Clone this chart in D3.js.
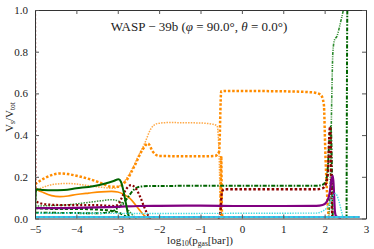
<!DOCTYPE html>
<html>
<head>
<meta charset="utf-8">
<script src="https://cdn.jsdelivr.net/npm/d3@7"></script>
<style>
  body { margin: 0; background: #fff; }
  svg text { font-family: "Liberation Serif", "DejaVu Serif", serif !important; fill: #222; }
</style>
</head>
<body>
<svg id="chart"></svg>
<script>
// values, [log10 p, V_s/V_tot]
const orangeSolid = [[-5, 0.30], [-4.99, 0.15], [-4.95, 0.14], [-4.8, 0.125], [-4.6, 0.11], [-4.4, 0.105], [-4.2, 0.108], [-4.0, 0.115], [-3.7, 0.122], [-3.4, 0.128], [-3.15, 0.13], [-3.0, 0.127], [-2.85, 0.115], [-2.7, 0.095], [-2.55, 0.06], [-2.45, 0.035], [-2.35, 0.012], [-2.25, 0]];
const orangeDashed = [[-5, 0.165], [-4.8, 0.19], [-4.6, 0.208], [-4.4, 0.216], [-4.2, 0.213], [-4.0, 0.205], [-3.7, 0.19], [-3.4, 0.17], [-3.15, 0.152], [-3.0, 0.152], [-2.8, 0.18], [-2.6, 0.25], [-2.4, 0.33], [-2.27, 0.36], [-2.15, 0.32], [-2.0, 0.3], [-1.0, 0.298], [-0.65, 0.3], [-0.55, 0.32], [-0.5, 0.61], [-0.4, 0.612], [1.0, 0.61], [1.7, 0.605], [1.9, 0.595], [1.98, 0.55], [2.02, 0.3], [2.07, 0.08], [2.1, 0]];
const orangeDashedDrop = [[-0.56, 0], [-0.52, 0.02], [-0.5, 0.3], [-0.48, 0.02], [-0.44, 0]];
const orangeDotted = [[-5, 0.13], [-4.8, 0.15], [-4.5, 0.165], [-4.2, 0.168], [-3.8, 0.16], [-3.4, 0.15], [-3.1, 0.145], [-2.9, 0.165], [-2.7, 0.22], [-2.5, 0.3], [-2.35, 0.36], [-2.2, 0.43], [-2.05, 0.455], [-1.8, 0.46], [-1.0, 0.458], [-0.7, 0.452], [-0.6, 0.445], [-0.55, 0.3], [-0.52, 0.05], [-0.5, 0]];
const greenSolid = [[-5, 0], [-4.98, 0.13], [-4.95, 0.14], [-4.8, 0.137], [-4.6, 0.135], [-4.3, 0.137], [-4.0, 0.145], [-3.6, 0.155], [-3.3, 0.168], [-3.1, 0.18], [-2.98, 0.188], [-2.92, 0.175], [-2.86, 0.13], [-2.8, 0.07], [-2.75, 0.02], [-2.7, 0]];
const greenDashDot = [[-5, 0.028], [-4.5, 0.027], [-4.0, 0.026], [-3.5, 0.025], [-3.2, 0.03], [-3.0, 0.05], [-2.8, 0.09], [-2.6, 0.14], [-2.45, 0.153], [-2.2, 0.156], [0, 0.157], [1.8, 0.157], [1.95, 0.162], [2.03, 0.18], [2.08, 0.25], [2.12, 0.4], [2.15, 0.44], [2.17, 0.3], [2.19, 0.05], [2.2, 0]];
const greenDashDotEdge = [[2.53, 0], [2.55, 1.0], [2.6, 1.0]];
const greenDashDotDot = [[2.1, 0], [2.14, 0.2], [2.17, 0.55], [2.2, 0.8], [2.24, 0.857], [2.3, 0.875], [2.36, 0.92], [2.42, 0.97], [2.46, 1.0], [2.6, 1.0]];
const greenDotted = [[-5, 0.06], [-4.6, 0.062], [-4.2, 0.066], [-3.8, 0.075], [-3.4, 0.085], [-3.15, 0.09], [-3.0, 0.085], [-2.85, 0.065], [-2.7, 0.03], [-2.6, 0.008], [-2.55, 0]];
const greenDashed = [[-5, 0.05], [-4.6, 0.046], [-4.2, 0.045], [-3.8, 0.045], [-3.5, 0.043], [-3.2, 0.038], [-3.0, 0.03], [-2.85, 0.015], [-2.75, 0]];
const redDotted = [[-5, 1.0], [-4.99, 0.09], [-4.95, 0.08], [-4.8, 0.07], [-4.5, 0.065], [-4.0, 0.064], [-3.5, 0.064], [-3.1, 0.06], [-3.0, 0.065], [-2.9, 0.1], [-2.8, 0.14], [-2.68, 0.16], [-2.55, 0.14], [-2.45, 0.1], [-2.35, 0.05], [-2.25, 0.01], [-2.2, 0]];
const redDashed = [[-0.58, 0], [-0.52, 0.03], [-0.48, 0.13], [-0.42, 0.14], [1.0, 0.14], [1.8, 0.14], [1.95, 0.145], [2.03, 0.165], [2.08, 0.22], [2.11, 0.38], [2.13, 0.44], [2.15, 0.35], [2.17, 0.1], [2.19, 0]];
const purpleSolid = [[-5, 0.05], [-4.5, 0.05], [-4.0, 0.051], [-3.5, 0.053], [-3.0, 0.056], [-2.5, 0.06], [-2, 0.061], [-1, 0.062], [0, 0.06], [1, 0.06], [1.8, 0.061], [1.95, 0.065], [2.05, 0.08], [2.12, 0.12], [2.17, 0.19], [2.2, 0.205], [2.22, 0.15], [2.25, 0.03], [2.28, 0.01], [2.35, 0.005], [2.4, 0]];
const cyanDotted = [[-5, 0.025], [-4, 0.025], [-2, 0.024], [0, 0.025], [1.8, 0.026], [1.95, 0.035], [2.05, 0.05], [2.12, 0.07], [2.18, 0.1], [2.25, 0.12], [2.3, 0.11], [2.35, 0.08], [2.4, 0.04], [2.45, 0]];
const blueBase = [[-5, 0.007], [0, 0.007], [2.85, 0.007]];
const cyanBase = [[-5, 0.007], [0, 0.007], [2.85, 0.007]];

const xTicks = [-5, -4, -3, -2, -1, 0, 1, 2, 3];
const yTicks = [0, 0.2, 0.4, 0.6, 0.8, 1.0];

const series = [
  {data: orangeDotted, color: '#ffa947', width: 1.5, dash: '1.5,1.2'},
  {data: orangeDashed, color: '#ff8c00', width: 2.5, dash: '2.5,1.8'},
  {data: orangeDashedDrop, color: '#ff8c00', width: 2.5, dash: '2.5,1.8'},
  {data: orangeSolid, color: '#ff8c00', width: 1.7, dash: null},
  {data: greenDotted, color: '#3a8f3a', width: 1.5, dash: '1.5,1.2'},
  {data: greenDashed, color: '#006400', width: 2, dash: '3,2'},
  {data: greenDashDot, color: '#006400', width: 2, dash: '4,1.5,1.5,1.5'},
  {data: greenDashDotDot, color: '#2e8b2e', width: 1.6, dash: '3,1.2,1,1.2,1,1.2'},
  {data: greenDashDotEdge, color: '#006400', width: 2, dash: '4,1.5,1.5,1.5'},
  {data: redDotted, color: '#8b0000', width: 2.2, dash: '2,2'},
  {data: redDashed, color: '#8b0000', width: 2.4, dash: '2.6,2'},
  {data: purpleSolid, color: '#800080', width: 2.2, dash: null},
  {data: greenSolid, color: '#006400', width: 2, dash: null},
  {data: cyanDotted, color: '#40dde0', width: 1.4, dash: '1.4,1.2'},
  {data: blueBase, color: '#3fa9e0', width: 2, dash: null},
  {data: cyanBase, color: '#20f0f0', width: 1, dash: '3,2'}
];

const width = 374, height = 249;
const margin = {left: 35, right: 8, top: 10, bottom: 30.5};

const x = d3.scaleLinear().domain([-5, 3]).range([margin.left, width - margin.right]);
const y = d3.scaleLinear().domain([0, 1]).range([height - margin.bottom, margin.top]);

const line = d3.line()
  .x(d => x(d[0]))
  .y(d => y(d[1]))
  .curve(d3.curveMonotoneX);

const svg = d3.select('#chart').attr('width', width).attr('height', height);

svg.append('clipPath').attr('id', 'plot')
  .append('rect')
  .attr('x', x(-5)).attr('y', y(1))
  .attr('width', x(3) - x(-5)).attr('height', y(0) - y(1));

svg.append('g').attr('clip-path', 'url(#plot)')
  .selectAll('path')
  .data(series)
  .join('path')
  .attr('d', s => line(s.data))
  .attr('fill', 'none')
  .attr('stroke', s => s.color)
  .attr('stroke-width', s => s.width)
  .attr('stroke-dasharray', s => s.dash);

// axes: inward ticks on all four sides
const fmtX = d => d < 0 ? '\u2212' + Math.abs(d) : String(d);
const axBottom = svg.append('g').attr('transform', `translate(0,${y(0)})`)
  .call(d3.axisBottom(x).tickValues(xTicks).tickSizeInner(-4).tickSizeOuter(0).tickPadding(7).tickFormat(fmtX));
const axTop = svg.append('g').attr('transform', `translate(0,${y(1)})`)
  .call(d3.axisTop(x).tickValues(xTicks).tickSizeInner(-4).tickSizeOuter(0).tickFormat(''));
const axLeft = svg.append('g').attr('transform', `translate(${x(-5)},0)`)
  .call(d3.axisLeft(y).tickValues(yTicks).tickSizeInner(-4).tickSizeOuter(0).tickPadding(7).tickFormat(d3.format('.1f')));
const axRight = svg.append('g').attr('transform', `translate(${x(3)},0)`)
  .call(d3.axisRight(y).tickValues(yTicks).tickSizeInner(-4).tickSizeOuter(0).tickFormat(''));

[axBottom, axTop, axLeft, axRight].forEach(g => {
  g.attr('font-family', null);
  g.select('.domain').attr('stroke', '#333');
  g.selectAll('.tick line').attr('stroke', '#555');
  g.selectAll('.tick text').attr('font-size', 11).attr('fill', '#222');
});

// title
const title = svg.append('text')
  .attr('x', 199).attr('y', 31)
  .attr('text-anchor', 'middle')
  .attr('font-size', 13);
title.append('tspan').text('WASP \u2212 39b (');
title.append('tspan').attr('font-style', 'italic').text('\u03c6');
title.append('tspan').text(' = 90.0\u00b0, ');
title.append('tspan').attr('font-style', 'italic').text('\u03b8');
title.append('tspan').text(' = 0.0\u00b0)');

// x label
const xl = svg.append('text')
  .attr('x', 200).attr('y', 244)
  .attr('text-anchor', 'middle')
  .attr('font-size', 11);
xl.append('tspan').text('log');
xl.append('tspan').attr('font-size', 7.5).attr('dy', 2).text('10');
xl.append('tspan').attr('dy', -2).text('(p');
xl.append('tspan').attr('font-size', 7.5).attr('dy', 2).text('gas');
xl.append('tspan').attr('dy', -2).text('[bar])');

// y label
const yl = svg.append('text')
  .attr('transform', 'translate(13,117) rotate(-90)')
  .attr('text-anchor', 'middle')
  .attr('font-size', 11);
yl.append('tspan').text('V');
yl.append('tspan').attr('font-size', 7.5).attr('dy', 2).text('s');
yl.append('tspan').attr('dy', -2).text('/V');
yl.append('tspan').attr('font-size', 7.5).attr('dy', 2).text('tot');
</script>
</body>
</html>
